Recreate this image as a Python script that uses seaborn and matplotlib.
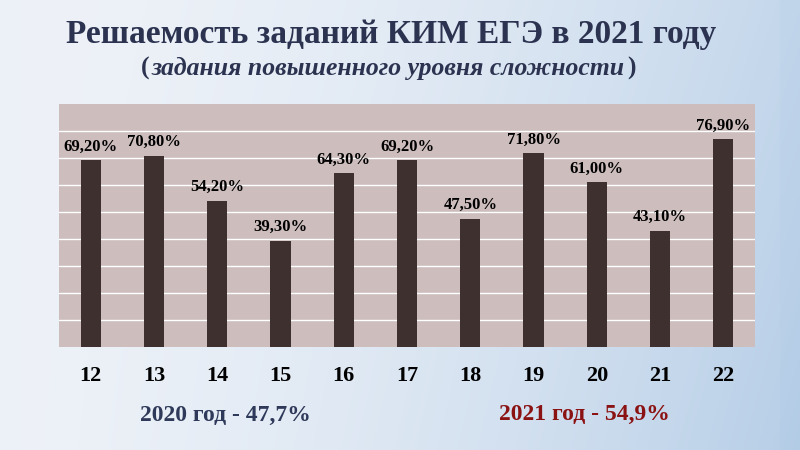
import numpy as np
import pandas as pd
import matplotlib
matplotlib.use("Agg")
import matplotlib.pyplot as plt
from matplotlib.colors import to_rgb
import seaborn as sns

tasks = ["12", "13", "14", "15", "16", "17", "18", "19", "20", "21", "22"]
solved = [69.2, 70.8, 54.2, 39.3, 64.3, 69.2, 47.5, 71.8, 61.0, 43.1, 76.9]
title = "Решаемость заданий КИМ ЕГЭ в 2021 году"
subtitle = "задания повышенного уровня сложности"
note_2020 = "2020 год - 47,7%"
note_2021 = "2021 год - 54,9%"

sns.set_theme(style="white")
plt.rcParams["font.family"] = ["Liberation Serif", "DejaVu Serif"]

fig = plt.figure(figsize=(8, 4.5), dpi=100)

# background gradient
bg = fig.add_axes([0, 0, 1, 1], zorder=-10)
H, W = 450, 800
xx, yy = np.meshgrid(np.linspace(0, 1, W), np.linspace(0, 1, H))
c0 = np.array(to_rgb("#eef2f8"))
c1 = np.array(to_rgb("#b6cee7"))
t = np.clip(0.75 * xx ** 1.8 + 0.25 * yy * xx, 0, 1)
img = c0[None, None, :] * (1 - t[..., None]) + c1[None, None, :] * t[..., None]
strip = xx > 780 / 800
img[strip] = img[strip] * 0.93 + np.array(to_rgb("#8fb5dc")) * 0.07
left = xx < 20 / 800
img[left] = img[left] * 0.97 + np.array(to_rgb("#c5d6ea")) * 0.03
bg.imshow(img, aspect="auto", extent=[0, 1, 0, 1], origin="upper")
bg.axis("off")

ax = fig.add_axes([59 / 800, 103 / 450, 696 / 800, 243 / 450])
df = pd.DataFrame({"task": tasks, "solved": solved})
sns.barplot(data=df, x="task", y="solved", color="#3f3030", width=0.32,
            saturation=1, edgecolor="none", linewidth=0, ax=ax, zorder=3)
ax.set_facecolor("#cdbdbd")
ax.set_ylim(0, 90)
ax.set_xlim(-0.5, len(tasks) - 0.5)
ax.set_yticks(np.arange(10, 90, 10))
ax.yaxis.grid(True, color="white", linewidth=1.0, zorder=0)
ax.xaxis.grid(False)
ax.set_axisbelow(True)
ax.tick_params(axis="y", left=False, labelleft=False)
ax.tick_params(axis="x", bottom=False, pad=8)
for lbl in ax.get_xticklabels():
    lbl.set_fontsize(16)
    lbl.set_fontweight("bold")
    lbl.set_color("black")
ax.set_xlabel("")
ax.set_ylabel("")
for s in ax.spines.values():
    s.set_visible(False)

for i, v in enumerate(solved):
    ax.annotate(f"{v:.2f}".replace(".", ",") + "%", (i, v), xytext=(0, 4),
                textcoords="offset points", ha="center", va="bottom",
                fontsize=12, fontweight="bold", color="black", zorder=5)

fig.text(0.489, 1 - 35 / 450, title, ha="center", va="center",
         fontsize=24, fontweight="bold", color="#2b3350")

sub_y = 1 - 68 / 450
mid = fig.text(0.485, sub_y, subtitle, ha="center", va="center",
               fontsize=18.5, fontweight="bold", fontstyle="italic", color="#2b3350")
renderer = fig.canvas.get_renderer()
bb = mid.get_window_extent(renderer)
x_l = bb.x0 / fig.bbox.width
x_r = bb.x1 / fig.bbox.width
fig.text(x_l - 0.002, sub_y, "(", ha="right", va="center",
         fontsize=18.5, fontweight="bold", color="#2b3350")
fig.text(x_r + 0.003, sub_y, ")", ha="left", va="center",
         fontsize=18.5, fontweight="bold", color="#2b3350")

fig.text(225 / 800, 1 - 415 / 450, note_2020, ha="center", va="center",
         fontsize=17, fontweight="bold", color="#2f3a5a")
fig.text(584 / 800, 1 - 414 / 450, note_2021, ha="center", va="center",
         fontsize=17, fontweight="bold", color="#8b1212")

fig.savefig("out.png", dpi=100)
